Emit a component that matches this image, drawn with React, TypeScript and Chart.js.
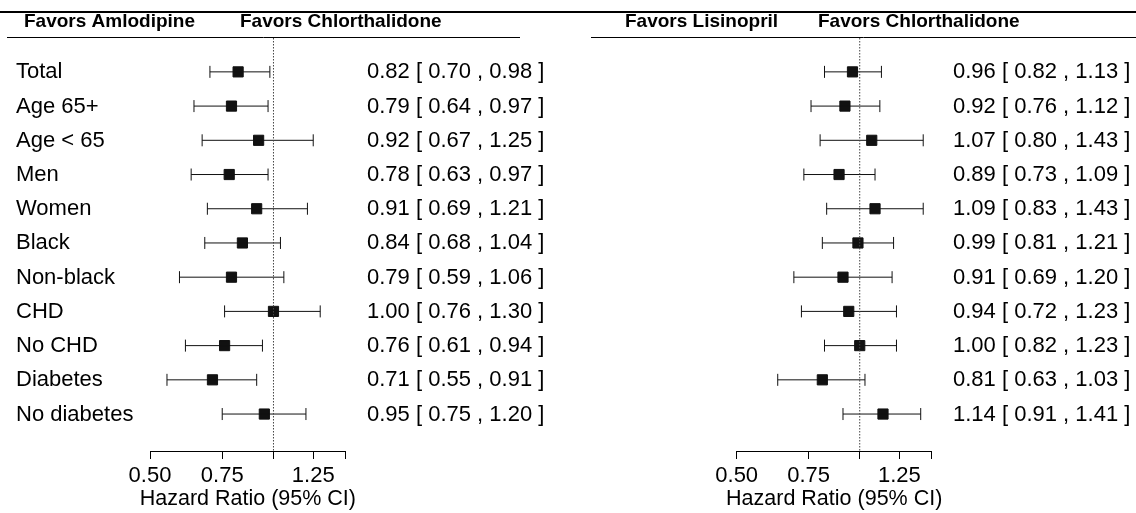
import React, { useEffect, useRef } from 'react';
import { Chart, registerables } from 'chart.js';

Chart.register(...registerables);

const SUBGROUPS = ['Total', 'Age 65+', 'Age < 65', 'Men', 'Women', 'Black', 'Non-black', 'CHD', 'No CHD', 'Diabetes', 'No diabetes'];
const AML_HR = [0.82, 0.79, 0.92, 0.78, 0.91, 0.84, 0.79, 1.0, 0.76, 0.71, 0.95];
const AML_LO = [0.7, 0.64, 0.67, 0.63, 0.69, 0.68, 0.59, 0.76, 0.61, 0.55, 0.75];
const AML_HI = [0.98, 0.97, 1.25, 0.97, 1.21, 1.04, 1.06, 1.3, 0.94, 0.91, 1.2];
const LIS_HR = [0.96, 0.92, 1.07, 0.89, 1.09, 0.99, 0.91, 0.94, 1.0, 0.81, 1.14];
const LIS_LO = [0.82, 0.76, 0.8, 0.73, 0.83, 0.81, 0.69, 0.72, 0.82, 0.63, 0.91];
const LIS_HI = [1.13, 1.12, 1.43, 1.09, 1.43, 1.21, 1.2, 1.23, 1.23, 1.03, 1.41];
const TICK_VALUES = [0.5, 0.75, 1, 1.25, 1.5];
const TICK_LABELS = ['0.50', '0.75', '', '1.25', ''];
const AXIS_TITLE = 'Hazard Ratio (95% CI)';

const FONT = '"Liberation Sans", Arial, Helvetica, sans-serif';
const Y_MIN = -0.99;
const Y_MAX = 11.08;
const X_MIN = 0.5;
const X_MAX = 1.5;
const W = 568;
const H = 513;

const fmt = (v: number) => v.toFixed(2);

type PanelProps = {
  left: number;
  hr: number[];
  lo: number[];
  hi: number[];
  labels: string[] | null;
  headLeft: string;
  headRight: string;
  headLeftX: number;
  headRightX: number;
  ruleX0: number;
  ruleX1: number;
  padLeft: number;
  padRight: number;
};

function ForestPanel(p: PanelProps) {
  const ref = useRef<HTMLCanvasElement | null>(null);
  useEffect(() => {
    if (!ref.current) return;
    const values = p.hr.map((v, i) => `${fmt(v)} [ ${fmt(p.lo[i])} , ${fmt(p.hi[i])} ]`);
    const overlay = {
      id: 'forestText',
      afterDraw(chart: any) {
        const { ctx, chartArea, scales } = chart;
        const ys = scales.y;
        ctx.save();
        ctx.fillStyle = '#000';
        ctx.strokeStyle = '#000';
        ctx.lineWidth = 2;
        ctx.beginPath();
        ctx.moveTo(0, 12);
        ctx.lineTo(chart.width, 12);
        ctx.stroke();
        ctx.lineWidth = 1;
        ctx.beginPath();
        ctx.moveTo(p.ruleX0, 37.5);
        ctx.lineTo(p.ruleX1, 37.5);
        ctx.stroke();
        ctx.textAlign = 'left';
        ctx.textBaseline = 'alphabetic';
        ctx.font = `bold 19px ${FONT}`;
        ctx.fillText(p.headLeft, p.headLeftX, 27);
        ctx.fillText(p.headRight, p.headRightX, 27);
        ctx.font = `22px ${FONT}`;
        values.forEach((txt, i) => {
          const py = ys.getPixelForValue(i) + 6.5;
          if (p.labels) ctx.fillText(p.labels[i], 16, py);
          ctx.fillText(txt, chartArea.right + 21.3, py);
        });
        ctx.font = `21.5px ${FONT}`;
        ctx.textAlign = 'center';
        ctx.textBaseline = 'alphabetic';
        ctx.fillText(AXIS_TITLE, (chartArea.left + chartArea.right) / 2, 505);
        ctx.restore();
      },
    };

    const ciSets = p.hr.map((_, i) => ({
      data: [
        { x: p.lo[i], y: i },
        { x: p.hi[i], y: i },
      ],
      showLine: true,
      borderColor: '#111',
      borderWidth: 1,
      pointStyle: 'line',
      pointRotation: 90,
      pointRadius: 6,
      pointBorderWidth: 1,
      pointBorderColor: '#111',
      clip: false,
    }));

    const chart = new Chart(ref.current, {
      type: 'scatter',
      data: {
        datasets: [
          {
            data: [
              { x: 1, y: Y_MIN },
              { x: 1, y: Y_MAX },
            ],
            showLine: true,
            borderColor: '#444',
            borderWidth: 1,
            borderDash: [1.5, 1.5],
            pointRadius: 0,
            clip: false,
          },
          ...ciSets,
          {
            data: p.hr.map((v, i) => ({ x: v, y: i })),
            pointStyle: 'rect',
            pointRadius: 7.2,
            backgroundColor: '#111',
            borderColor: '#111',
            borderWidth: 1,
            clip: false,
          },
        ] as any,
      },
      options: {
        animation: false,
        responsive: false,
        events: [],
        layout: { padding: { left: p.padLeft, right: p.padRight, top: 38, bottom: 20 } },
        plugins: { legend: { display: false }, tooltip: { enabled: false } },
        scales: {
          x: {
            type: 'logarithmic',
            min: X_MIN,
            max: X_MAX,
            position: 'bottom',
            border: { display: true, color: '#000', width: 1 },
            grid: { display: true, drawOnChartArea: false, drawTicks: true, tickLength: 8, color: '#000', lineWidth: 1 },
            afterBuildTicks: (s: any) => {
              s.ticks = TICK_VALUES.map((v) => ({ value: v }));
            },
            ticks: {
              autoSkip: false,
              maxRotation: 0,
              padding: 6,
              color: '#000',
              font: { family: FONT, size: 22, lineHeight: 1 },
              callback: (_v: any, i: number) => TICK_LABELS[i],
            },
            title: { display: false },
          },
          y: {
            type: 'linear',
            display: false,
            reverse: true,
            min: Y_MIN,
            max: Y_MAX,
          },
        },
      } as any,
      plugins: [overlay],
    });
    return () => chart.destroy();
  }, []);
  return <canvas ref={ref} width={W} height={H} style={{ position: 'absolute', left: p.left, top: 0, width: W, height: H }} />;
}

export default function App() {
  return (
    <div style={{ position: 'absolute', left: 0, top: 0, width: 1136, height: 513, background: '#fff', overflow: 'hidden' }}>
      <ForestPanel
        left={0}
        hr={AML_HR}
        lo={AML_LO}
        hi={AML_HI}
        labels={SUBGROUPS}
        headLeft="Favors Amlodipine"
        headRight="Favors Chlorthalidone"
        headLeftX={24}
        headRightX={240}
        ruleX0={7}
        ruleX1={520}
        padLeft={150}
        padRight={W - 345.7}
      />
      <ForestPanel
        left={568}
        hr={LIS_HR}
        lo={LIS_LO}
        hi={LIS_HI}
        labels={null}
        headLeft="Favors Lisinopril"
        headRight="Favors Chlorthalidone"
        headLeftX={57}
        headRightX={250}
        ruleX0={23}
        ruleX1={W}
        padLeft={168.7}
        padRight={W - 363.7}
      />
    </div>
  );
}
